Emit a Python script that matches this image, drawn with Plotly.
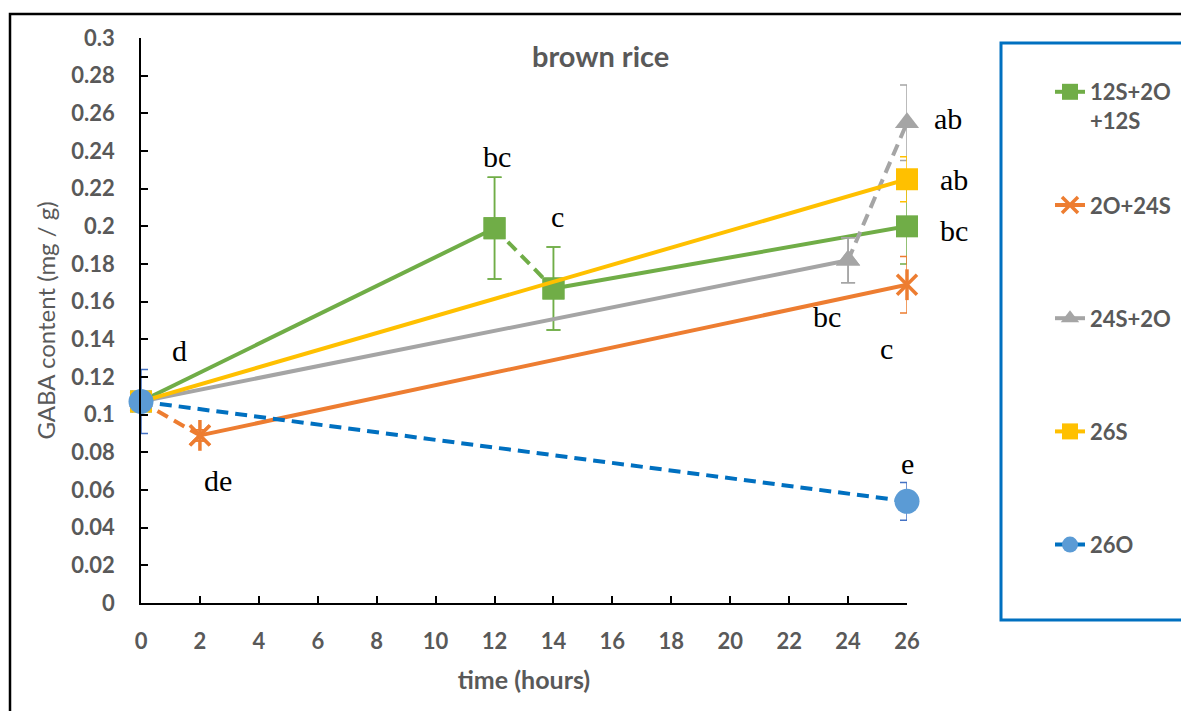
import plotly.graph_objects as go

# ---- data ----
x_green = [0, 12, 14, 26]
y_green = [0.107, 0.199, 0.167, 0.200]
e_green = [0.0, 0.027, 0.022, 0.020]

x_orange = [0, 2, 26]
y_orange = [0.107, 0.089, 0.169]
e_orange = [0.0, 0.003, 0.015]

x_grey = [0, 24, 26]
y_grey = [0.107, 0.182, 0.255]
e_grey = [0.0, 0.012, 0.020]

x_yellow = [0, 26]
y_yellow = [0.107, 0.225]
e_yellow = [0.0, 0.012]

x_blue = [0, 26]
y_blue = [0.107, 0.054]
e_blue = [0.017, 0.010]

letters = ["d", "de", "bc", "c", "bc", "c", "ab", "ab", "bc", "e"]
letter_x = [1.3, 2.6, 12.1, 14.15, 23.3, 25.3, 27.4, 27.6, 27.6, 26.0]
letter_y = [0.134, 0.065, 0.237, 0.205, 0.152, 0.135, 0.257, 0.225, 0.198, 0.074]

X_MAX = 26
Y_MAX = 0.3

GREEN = "#70AD47"
ORANGE = "#ED7D31"
GREY = "#A5A5A5"
YELLOW = "#FFC000"
BLUE_LINE = "#0070C0"
BLUE_MK = "#5B9BD5"
TXT = "#595959"
DASH = "12px,7px"

fig = go.Figure()


def seg(xs, ys, es, color, dash, symbol, size, name, legend, mcolor=None,
        ecolor=None, lw=4, mline=0):
    fig.add_trace(go.Scatter(
        x=xs, y=ys, mode="lines+markers", name=name, showlegend=legend,
        legendgroup=name,
        line=dict(color=color, width=lw, dash=dash),
        marker=dict(symbol=symbol, size=size, color=mcolor or color,
                    line=dict(width=mline, color=mcolor or color)),
        error_y=dict(type="data", array=es, visible=True,
                     color=ecolor or color, thickness=1.5, width=7),
        cliponaxis=False,
    ))


N1 = "12S+2O<br>+12S"
N2 = "2O+24S<br>&nbsp;"
N3 = "24S+2O<br>&nbsp;"
N4 = "26S<br>&nbsp;"
N5 = "26O<br>&nbsp;"

# green: solid 0-12, dashed 12-14, solid 14-26
seg(x_green[0:2], y_green[0:2], e_green[0:2], GREEN, "solid", "square", 22, N1, True)
seg(x_green[1:3], y_green[1:3], e_green[1:3], GREEN, DASH, "square", 22, N1, False)
seg(x_green[2:4], y_green[2:4], e_green[2:4], GREEN, "solid", "square", 22, N1, False)

# orange: dashed 0-2, solid 2-26 (star marker = x + vertical bar)
seg(x_orange[1:3], y_orange[1:3], e_orange[1:3], ORANGE, "solid", "x-thin", 20, N2,
    True, mline=3.5)
seg(x_orange[0:2], y_orange[0:2], e_orange[0:2], ORANGE, DASH, "x-thin", 20, N2,
    False, mline=3.5)
fig.add_trace(go.Scatter(
    x=x_orange[1:3], y=y_orange[1:3], mode="markers", showlegend=False,
    legendgroup=N2, hoverinfo="skip",
    marker=dict(symbol="line-ns", size=22, line=dict(width=3.5, color=ORANGE)),
    cliponaxis=False))

# grey: solid 0-24, dashed 24-26
seg(x_grey[0:2], y_grey[0:2], e_grey[0:2], GREY, "solid", "triangle-up", 21, N3, True)
seg(x_grey[1:3], y_grey[1:3], e_grey[1:3], GREY, DASH, "triangle-up", 21, N3, False)

# yellow
seg(x_yellow, y_yellow, e_yellow, YELLOW, "solid", "square", 22, N4, True)

# blue dashed
seg(x_blue, y_blue, e_blue, BLUE_LINE, DASH, "circle", 25, N5, True,
    mcolor=BLUE_MK, ecolor="#4472C4")

for t, lx, ly in zip(letters, letter_x, letter_y):
    fig.add_annotation(x=lx / X_MAX, y=ly / Y_MAX, xref="paper", yref="paper",
                       xanchor="center", yanchor="middle",
                       text=t, showarrow=False,
                       font=dict(family="Liberation Serif", size=30, color="black"))

fig.update_layout(
    width=1181, height=711,
    margin=dict(l=141, r=274, t=38, b=108, autoexpand=False),
    paper_bgcolor="white", plot_bgcolor="white",
    font=dict(family="Lato", size=17, color=TXT),
    title=dict(text="<b>brown rice</b>", x=0.6, xref="paper", xanchor="center",
               y=0.92, yref="container", yanchor="middle",
               font=dict(family="Lato", size=29, color=TXT)),
    xaxis=dict(range=[0, X_MAX], tickvals=list(range(0, 27, 2)),
               showline=True, linecolor="black", linewidth=1.5,
               ticks="inside", ticklen=7, tickcolor="black", tickwidth=1.5,
               showgrid=False, zeroline=False, ticklabelstandoff=18,
               automargin=False,
               tickfont=dict(family="Lato", size=22, color=TXT, weight="bold"),
               title=dict(text="<b>time (hours)</b>", standoff=18,
                          font=dict(family="Lato", size=25, color=TXT))),
    yaxis=dict(range=[0, Y_MAX], tickvals=[i / 100 for i in range(0, 31, 2)],
               ticktext=["0"] + [("%g" % (i / 100)) for i in range(2, 31, 2)],
               showline=True, linecolor="black", linewidth=1.5,
               ticks="inside", ticklen=7, tickcolor="black", tickwidth=1.5,
               showgrid=False, zeroline=False, ticklabelstandoff=20,
               automargin=False,
               tickfont=dict(family="Lato", size=22, color=TXT, weight="bold"),
               title=dict(text="GABA content (mg / g)", standoff=9,
                          font=dict(family="Lato", size=24, color=TXT))),
    legend=dict(x=(1050 - 141) / 766, xanchor="left",
                y=(603 - 71) / 565, yanchor="top",
                bgcolor="rgba(0,0,0,0)", borderwidth=0,
                tracegroupgap=53, valign="top",
                font=dict(family="Lato", size=22, color=TXT, weight="bold")),
    shapes=[
        dict(type="rect", xref="paper", yref="paper",
             x0=(10 - 141) / 766, x1=(1200 - 141) / 766,
             y0=(603 - 730) / 565, y1=(603 - 14) / 565,
             line=dict(color="black", width=2.5), layer="below"),
        dict(type="rect", xref="paper", yref="paper",
             x0=(1001 - 141) / 766, x1=(1195 - 141) / 766,
             y0=(603 - 620) / 565, y1=(603 - 43) / 565,
             line=dict(color="#0070C0", width=3), layer="below"),
    ],
)

fig.write_html("out.html")
